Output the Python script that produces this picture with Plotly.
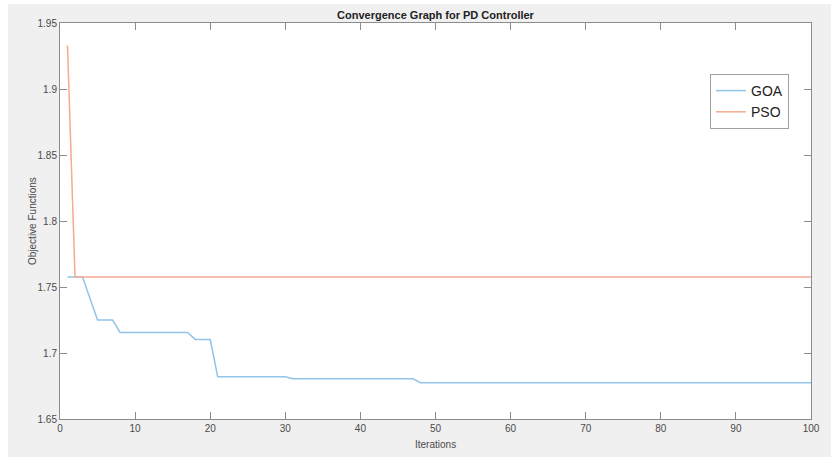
import plotly.graph_objects as go

# Data
goa_iter = [1, 3, 5, 7, 8, 17, 18, 20, 21, 30, 31, 47, 48, 100]
goa_val = [1.7575, 1.7575, 1.725, 1.725, 1.7156, 1.7156, 1.7103, 1.7103,
           1.682, 1.682, 1.6805, 1.6805, 1.6775, 1.6775]
pso_iter = [1, 2, 100]
pso_val = [1.933, 1.7575, 1.7575]

x_ticks = [0, 10, 20, 30, 40, 50, 60, 70, 80, 90, 100]
y_ticks = [1.65, 1.7, 1.75, 1.8, 1.85, 1.9, 1.95]
y_tick_text = ["1.65", "1.7", "1.75", "1.8", "1.85", "1.9", "1.95"]

W, H = 831, 457
L, R, T, B = 60, 20, 23, 38
pw, ph = W - L - R, H - T - B

FONT = "Liberation Sans, Arial, sans-serif"
AXIS_COL = "#8c8c8c"
TXT_COL = "#4a4a4a"

fig = go.Figure()
fig.add_trace(go.Scatter(x=goa_iter, y=goa_val, mode="lines", name="GOA",
                         line=dict(color="#92c3e8", width=1.5)))
fig.add_trace(go.Scatter(x=pso_iter, y=pso_val, mode="lines", name="PSO",
                         line=dict(color="#f3ab92", width=1.5)))

# white strips outside the grey figure area (left and top)
fig.add_shape(type="rect", xref="paper", yref="paper", layer="below",
              x0=-L / pw, x1=-(L - 8) / pw, y0=-B / ph, y1=1 + T / ph,
              fillcolor="white", line_width=0)
fig.add_shape(type="rect", xref="paper", yref="paper", layer="below",
              x0=-L / pw, x1=1 + R / pw, y0=1 + (T - 4) / ph, y1=1 + T / ph,
              fillcolor="white", line_width=0)

# axis titles
fig.add_annotation(text="Iterations", xref="paper", yref="paper",
                   x=(435.5 - L) / pw, y=-(444 - (T + ph)) / ph,
                   xanchor="center", yanchor="middle", showarrow=False,
                   font=dict(size=10, color=TXT_COL, family=FONT))
fig.add_annotation(text="Objective Functions", xref="paper", yref="paper",
                   x=(32 - L) / pw, y=0.5, textangle=-90,
                   xanchor="center", yanchor="middle", showarrow=False,
                   font=dict(size=10, color=TXT_COL, family=FONT))

fig.update_layout(
    width=W, height=H,
    margin=dict(l=L, r=R, t=T, b=B),
    paper_bgcolor="#f0f0f0",
    plot_bgcolor="white",
    font=dict(family=FONT, size=10, color=TXT_COL),
    title=dict(text="<b>Convergence Graph for PD Controller</b>",
               x=0.5, xref="paper", xanchor="center",
               y=1 - 15 / H, yref="container", yanchor="middle",
               font=dict(size=11, color="#222222", family=FONT)),
    showlegend=True,
    legend=dict(x=(710 - L) / pw, y=1 - (74 - T) / ph, xanchor="left", yanchor="top",
                bgcolor="white", bordercolor="#a0a0a0", borderwidth=1,
                font=dict(size=14, color="#222222", family=FONT),
                itemwidth=30, tracegroupgap=0),
    xaxis=dict(range=[0, 100], tickvals=x_ticks, ticks="inside", ticklen=7,
               tickcolor=AXIS_COL, showline=True, linecolor=AXIS_COL, linewidth=1,
               mirror="ticks", showgrid=False, zeroline=False, automargin=False),
    yaxis=dict(range=[1.65, 1.95], tickvals=y_ticks, ticktext=y_tick_text,
               ticks="inside", ticklen=7,
               tickcolor=AXIS_COL, showline=True, linecolor=AXIS_COL, linewidth=1,
               mirror="ticks", showgrid=False, zeroline=False, automargin=False),
)

fig.write_html("out.html",
               config={"displayModeBar": False},
               post_script="document.body.style.margin='0';document.body.style.overflow='hidden';")
